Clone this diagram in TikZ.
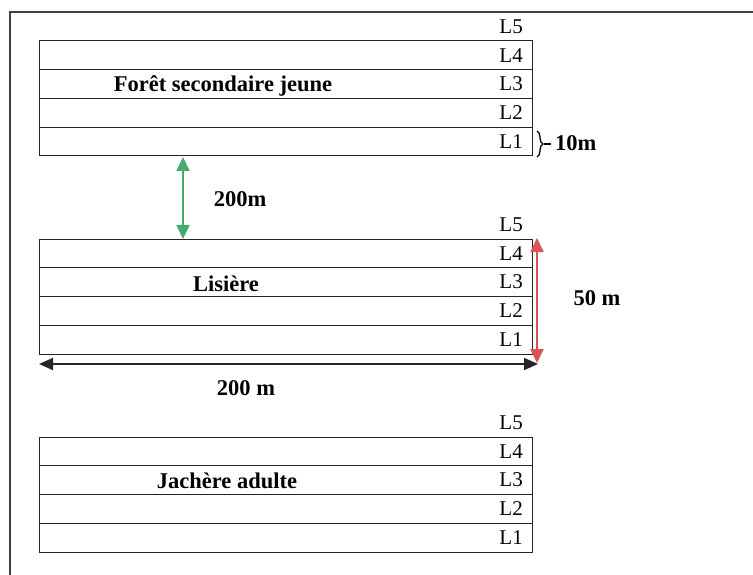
\documentclass[tikz,border=0pt]{standalone}
\usepackage{fontspec}
\setmainfont{Liberation Serif}
\usetikzlibrary{arrows.meta,decorations.pathreplacing}
\tikzset{
  frame/.style={line width=1.4pt,black!75},
  band/.style={line width=1pt,black!85},
  lab/.style={anchor=east,inner sep=0pt,font=\fontsize{21}{21}\selectfont},
  title/.style={inner sep=0pt,font=\bfseries\fontsize{22.5}{22.5}\selectfont},
  dim/.style={inner sep=0pt,font=\bfseries\fontsize{22.5}{22.5}\selectfont},
  garrow/.style={{Triangle[width=13pt,length=14pt]}-{Triangle[width=13pt,length=14pt]},line width=1.8pt,draw=greenA,fill=greenA},
  rarrow/.style={{Triangle[width=13pt,length=14pt]}-{Triangle[width=13pt,length=14pt]},line width=1.8pt,draw=redA,fill=redA},
  karrow/.style={{Triangle[width=12pt,length=14pt]}-{Triangle[width=12pt,length=14pt]},line width=1.8pt,draw=black!85},
}
\definecolor{greenA}{RGB}{70,170,110}
\definecolor{redA}{RGB}{215,85,85}
\begin{document}
\begin{tikzpicture}[x=1pt,y=-1pt]
\useasboundingbox (0,0) rectangle (753,575);
\draw[frame] (10,576) -- (10,12) -- (754,12);
% blocks
\foreach \T/\nm/\tx/\ty/\txt in {41/top/223/86/{Forêt secondaire jeune},239/mid/226/284/{Lisière},437/bot/227/481/{Jachère adulte}}{
  \draw[band] (39,\T) rectangle (532,\T+115);
  \foreach \k in {1,2,3}{\draw[band] (39,\T+28.75*\k) -- (532,\T+28.75*\k);}
  \node[lab] at (523,\T-14) {L5};
  \node[lab] at (523,\T+14.4) {L4};
  \node[lab] at (523,\T+43.1) {L3};
  \node[lab] at (523,\T+71.9) {L2};
  \node[lab] at (523,\T+100.6) {L1};
  \node[title] (\nm) at (\tx,\ty) {\txt};
}
% brace
\coordinate (bA) at (537,131);
\coordinate (bB) at (537,157);
\draw[line width=1.3pt,decorate,decoration={brace,amplitude=6pt}] (bA) -- (bB);
\coordinate (bt) at (544,144);
\coordinate (bt2) at (551,144);
\draw[line width=1.3pt] (bt) -- (bt2);
\node[dim,anchor=west] (ten) at (555,143) {10m};
% green arrow
\coordinate (g1) at (183,157);
\coordinate (g2) at (183,239);
\draw[garrow] (g1) -- (g2);
\node[dim] (d200a) at (240,199) {200m};
% red arrow
\coordinate (r1) at (537,238);
\coordinate (r2) at (537,363);
\draw[rarrow] (r1) -- (r2);
\node[dim] (d50) at (597,298) {50 m};
% black arrow
\coordinate (k1) at (39,364);
\coordinate (k2) at (538,364);
\draw[karrow] (k1) -- (k2);
\node[dim] (d200b) at (246,388) {200 m};
\end{tikzpicture}
\end{document}
